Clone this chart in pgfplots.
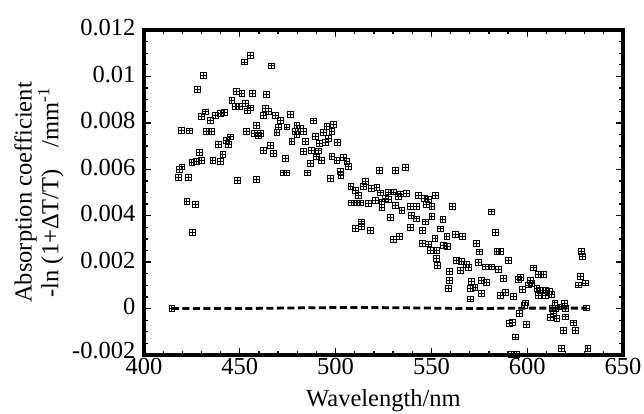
\documentclass[border=0pt]{standalone}
\usepackage{pgfplots}
\pgfplotsset{compat=1.18}
\usepackage{pgfplotstable}
\usepackage{fontspec}
\setmainfont{Liberation Serif}
\pgfdeclareplotmark{sqplus}{%
 \pgfpathrectangle{\pgfpoint{-\pgfplotmarksize}{-\pgfplotmarksize}}{\pgfpoint{2\pgfplotmarksize}{2\pgfplotmarksize}}%
 \pgfpathmoveto{\pgfpoint{-\pgfplotmarksize}{0pt}}\pgfpathlineto{\pgfpoint{\pgfplotmarksize}{0pt}}%
 \pgfpathmoveto{\pgfpoint{0pt}{-\pgfplotmarksize}}\pgfpathlineto{\pgfpoint{0pt}{\pgfplotmarksize}}%
 \pgfusepathqstroke}
\pgfplotstableread{
x y
414.5 0
419.3 7.69e-3
423.5 7.66e-3
418.4 6.01e-3
419.7 6.11e-3
417.9 5.65e-3
423.1 5.65e-3
422.3 4.63e-3
426.6 4.49e-3
425.4 3.29e-3
424.9 6.30e-3
427.5 6.36e-3
430.1 6.40e-3
435.9 6.40e-3
439.7 6.33e-3
428.9 6.73e-3
441.1 6.65e-3
431.0 10.06e-3
427.8 9.45e-3
430.1 8.27e-3
431.8 8.48e-3
434.4 8.12e-3
437.1 8.31e-3
439.7 8.41e-3
441.8 8.45e-3
432.7 7.62e-3
435.3 7.65e-3
444.9 7.40e-3
442.8 7.26e-3
444.0 7.08e-3
438.8 7.08e-3
445.8 8.98e-3
448.0 9.37e-3
451.0 9.27e-3
456.7 9.27e-3
464.0 9.23e-3
447.5 8.70e-3
449.7 8.70e-3
452.7 8.84e-3
455.3 8.65e-3
454.1 8.52e-3
455.3 10.92e-3
452.3 10.63e-3
466.6 10.46e-3
463.2 8.63e-3
464.9 8.51e-3
462.3 8.34e-3
468.4 8.31e-3
471.0 8.12e-3
476.2 8.37e-3
458.8 7.91e-3
470.1 7.83e-3
474.5 7.83e-3
479.7 7.88e-3
481.4 7.77e-3
478.8 7.62e-3
483.1 7.65e-3
453.2 7.65e-3
457.6 7.55e-3
460.5 7.55e-3
459.7 7.45e-3
469.3 7.59e-3
479.7 7.51e-3
484.0 7.19e-3
477.1 7.19e-3
462.3 6.83e-3
466.1 7.02e-3
467.5 6.69e-3
483.1 6.79e-3
473.6 6.47e-3
472.7 5.85e-3
474.5 5.85e-3
485.4 5.85e-3
448.7 5.54e-3
458.8 5.58e-3
488.4 8.09e-3
495.4 7.86e-3
498.8 7.95e-3
489.2 7.43e-3
493.6 7.58e-3
498.0 7.62e-3
491.5 7.12e-3
494.5 7.16e-3
496.2 7.33e-3
500.9 7.15e-3
487.5 6.83e-3
491.0 6.80e-3
492.7 6.40e-3
490.1 6.54e-3
498.0 6.57e-3
500.6 6.40e-3
504.0 6.52e-3
505.8 6.36e-3
506.6 6.14e-3
486.6 6.26e-3
497.1 5.61e-3
502.7 5.75e-3
502.3 5.90e-3
522.8 5.94e-3
531.0 5.94e-3
536.2 6.07e-3
507.9 5.28e-3
510.1 5.11e-3
511.8 4.89e-3
514.4 5.28e-3
515.3 5.47e-3
518.8 5.18e-3
521.5 5.22e-3
523.2 4.99e-3
525.8 4.75e-3
527.5 5.03e-3
527.5 4.71e-3
524.1 4.60e-3
508.4 4.56e-3
511.0 4.56e-3
512.7 4.56e-3
517.1 4.53e-3
520.6 4.68e-3
530.1 5.03e-3
532.7 4.85e-3
533.6 4.94e-3
536.7 4.97e-3
543.2 4.89e-3
546.1 4.75e-3
548.4 4.71e-3
551.9 4.89e-3
538.8 4.42e-3
542.3 4.39e-3
547.2 4.50e-3
550.2 4.39e-3
531.0 4.46e-3
534.5 4.25e-3
524.1 4.36e-3
561.1 4.42e-3
539.7 4.03e-3
542.3 3.87e-3
546.7 3.74e-3
528.4 3.92e-3
550.2 3.96e-3
555.9 3.85e-3
513.6 3.74e-3
510.1 3.46e-3
513.6 3.53e-3
518.0 3.38e-3
538.8 3.49e-3
545.4 3.37e-3
554.5 3.44e-3
558.0 3.10e-3
562.3 3.20e-3
566.3 3.11e-3
530.1 3.00e-3
533.2 3.13e-3
545.1 2.82e-3
548.4 2.79e-3
551.8 3.03e-3
556.1 2.73e-3
558.2 2.67e-3
549.3 2.52e-3
552.8 2.52e-3
581.1 4.17e-3
583.2 3.27e-3
573.3 2.81e-3
574.8 2.45e-3
584.1 2.48e-3
586.2 2.48e-3
590.0 2.09e-3
628.4 2.46e-3
628.8 2.24e-3
552.6 2.17e-3
553.2 1.86e-3
563.2 2.07e-3
565.8 2.02e-3
568.4 1.92e-3
569.3 1.78e-3
564.9 1.66e-3
574.5 1.98e-3
578.0 1.80e-3
581.5 1.80e-3
585.0 1.69e-3
603.2 1.76e-3
605.8 1.49e-3
608.4 1.49e-3
627.6 1.38e-3
626.7 1.02e-3
630.2 1.11e-3
559.3 1.59e-3
559.5 1.23e-3
558.8 0.89e-3
571.0 1.16e-3
570.1 0.87e-3
572.7 0.93e-3
576.2 1.21e-3
578.8 1.12e-3
576.2 0.66e-3
570.1 0.42e-3
587.5 1.30e-3
595.3 1.27e-3
596.2 1.34e-3
601.5 1.23e-3
602.4 1.09e-3
600.6 1.02e-3
597.5 0.82e-3
605.0 0.87e-3
606.7 0.80e-3
609.3 0.80e-3
611.4 0.74e-3
605.8 0.58e-3
609.3 0.58e-3
612.8 0.63e-3
585.8 0.58e-3
588.4 0.69e-3
592.7 0.54e-3
614.4 0.25e-3
619.4 0.24e-3
617.0 0.08e-3
598.4 0.15e-3
598.8 0.25e-3
613.0 0.01e-3
614.5 0.01e-3
619.7 0.01e-3
631.0 0.03e-3
595.9 -0.19e-3
611.9 -0.38e-3
615.4 -0.42e-3
619.7 -0.35e-3
613.6 -0.20e-3
590.5 -0.62e-3
592.1 -0.58e-3
599.7 -0.69e-3
624.1 -0.61e-3
618.7 -0.94e-3
625.0 -0.95e-3
593.6 -1.22e-3
617.8 -1.71e-3
631.6 -1.71e-3
591.5 -1.98e-3
594.4 -1.98e-3
}\absdata
\pgfplotstableread{
x y
414.5 0
450 0
480 0.03e-3
510 0.05e-3
540 0.03e-3
570 0
600 0.02e-3
631 0.02e-3
}\baseline
\begin{document}
\begin{tikzpicture}
\useasboundingbox (0,0) rectangle (644pt,413pt);
\begin{axis}[
  at={(144pt,58pt)}, anchor=south west,
  scale only axis, width=479pt, height=325pt,
  xmin=400, xmax=650, ymin=-0.002, ymax=0.012,
  xtick={400,450,...,650},
  ytick={-0.002,0,0.002,0.004,0.006,0.008,0.01,0.012},
  yticklabels={\raisebox{6pt}{-0.002},0,0.002,0.004,0.006,0.008,0.01,0.012},
  scaled y ticks=false,
  minor x tick num=4, minor y tick num=3,
  tick align=inside,
  major tick length=7pt, minor tick length=4pt,
  every tick/.style={black, line width=1.3pt},
  axis line style={line width=4pt},
  xticklabel style={/pgf/number format/assume math mode=true},
  yticklabel style={xshift=-5pt, yshift=2pt},
  tick label style={font=\fontsize{24.5}{25}\selectfont},
  label style={font=\fontsize{24.5}{24}\selectfont},
  xlabel={Wavelength/nm},
  xlabel style={at={(axis description cs:0.5,0)}, anchor=base, yshift=-51pt},
  ylabel={Absorption coefficient\\-ln (1+ΔT/T)\hspace{0.9em}/mm\textsuperscript{-1}},
  ylabel style={align=center, at={(axis description cs:0,0.5)}, anchor=center, yshift=105pt},
  clip=false,
]
\addplot[black, line width=2.8pt, dash pattern=on 7pt off 3.5pt] table[x=x,y=y] {\baseline};
\addplot[only marks, mark=sqplus, mark size=2.9pt, mark options={line width=0.6pt, black}] table[x=x,y=y] {\absdata};
\draw[line width=4pt, line cap=rect] (rel axis cs:0,0) rectangle (rel axis cs:1,1);
\end{axis}
\end{tikzpicture}
\end{document}
